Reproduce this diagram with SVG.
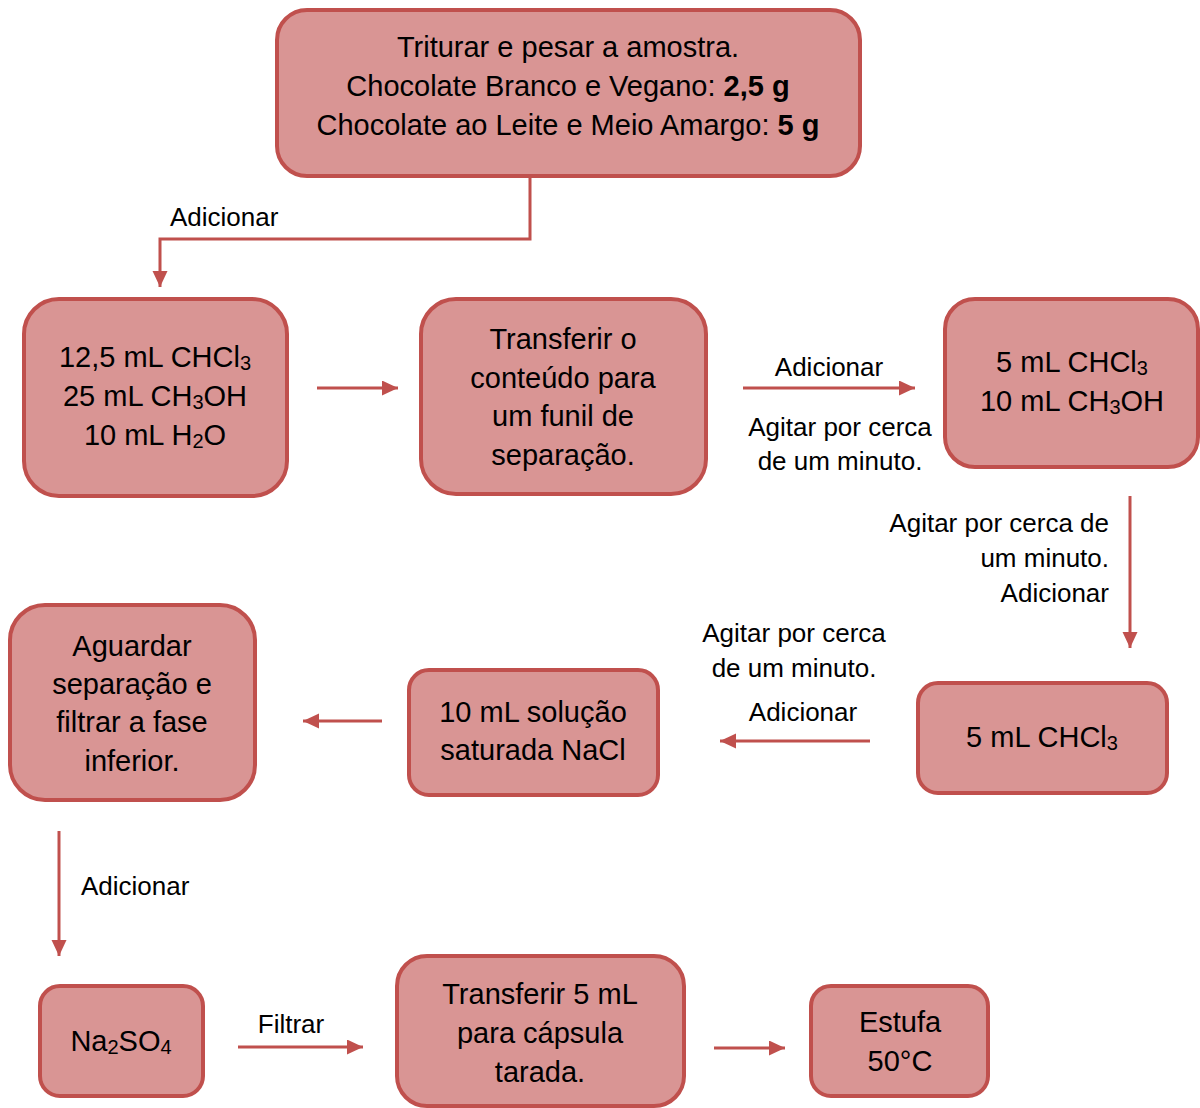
<svg xmlns="http://www.w3.org/2000/svg" width="1200" height="1108" viewBox="0 0 1200 1108">
<style>
.box{fill:#D99594;stroke:#C0504D;stroke-width:4}
.t{font-family:"Liberation Sans",Arial,sans-serif;font-size:29px;fill:#000;text-anchor:middle}
.l{font-family:"Liberation Sans",Arial,sans-serif;font-size:26px;fill:#000}
.c{fill:none;stroke:#C0504D;stroke-width:3}
.s{font-size:20px}
</style>
<defs>
<marker id="ah" markerUnits="userSpaceOnUse" markerWidth="18" markerHeight="17" refX="16" refY="7.5" orient="auto">
<path d="M0,0 L16,7.5 L0,15 Z" fill="#C0504D"/>
</marker>
</defs>
<rect width="1200" height="1108" fill="#fff"/>

<g id="connectors">
<path class="c" d="M530,176 V239 H160 V287" marker-end="url(#ah)"/>
<path class="c" d="M317,388 H398" marker-end="url(#ah)"/>
<path class="c" d="M743,388 H915" marker-end="url(#ah)"/>
<path class="c" d="M1130,496 V648" marker-end="url(#ah)"/>
<path class="c" d="M870,741 H720" marker-end="url(#ah)"/>
<path class="c" d="M382,721 H303" marker-end="url(#ah)"/>
<path class="c" d="M59,831 V956" marker-end="url(#ah)"/>
<path class="c" d="M238,1047 H363" marker-end="url(#ah)"/>
<path class="c" d="M714,1048 H785" marker-end="url(#ah)"/>
<text class="l" x="170" y="226">Adicionar</text>
<text class="l" x="829" y="376" text-anchor="middle">Adicionar</text>
<text class="l" x="840" y="436" text-anchor="middle">Agitar por cerca</text>
<text class="l" x="840" y="470" text-anchor="middle">de um minuto.</text>
<text class="l" x="1109" y="532" text-anchor="end">Agitar por cerca de</text>
<text class="l" x="1109" y="567" text-anchor="end">um minuto.</text>
<text class="l" x="1109" y="602" text-anchor="end">Adicionar</text>
<text class="l" x="794" y="642" text-anchor="middle">Agitar por cerca</text>
<text class="l" x="794" y="677" text-anchor="middle">de um minuto.</text>
<text class="l" x="803" y="721" text-anchor="middle">Adicionar</text>
<text class="l" x="81" y="895">Adicionar</text>
<text class="l" x="291" y="1033" text-anchor="middle">Filtrar</text>
</g>

<g id="n1">
<rect class="box" x="277" y="10" width="583" height="166" rx="30"/>
<text class="t" x="568" y="57">Triturar e pesar a amostra.</text>
<text class="t" x="568" y="96">Chocolate Branco e Vegano: <tspan font-weight="bold">2,5 g</tspan></text>
<text class="t" x="568" y="135">Chocolate ao Leite e Meio Amargo: <tspan font-weight="bold">5 g</tspan></text>
</g>

<g id="n2">
<rect class="box" x="24" y="299" width="263" height="197" rx="35"/>
<text class="t" x="155" y="367">12,5 mL CHCl<tspan class="s" dy="3">3</tspan></text>
<text class="t" x="155" y="406">25 mL CH<tspan class="s" dy="3">3</tspan><tspan dy="-3">OH</tspan></text>
<text class="t" x="155" y="445">10 mL H<tspan class="s" dy="3">2</tspan><tspan dy="-3">O</tspan></text>
</g>

<g id="n3">
<rect class="box" x="421" y="299" width="285" height="195" rx="35"/>
<text class="t" x="563" y="349">Transferir o</text>
<text class="t" x="563" y="388">conteúdo para</text>
<text class="t" x="563" y="426">um funil de</text>
<text class="t" x="563" y="465">separação.</text>
</g>

<g id="n4">
<rect class="box" x="945" y="299" width="253" height="168" rx="30"/>
<text class="t" x="1072" y="372">5 mL CHCl<tspan class="s" dy="3">3</tspan></text>
<text class="t" x="1072" y="411">10 mL CH<tspan class="s" dy="3">3</tspan><tspan dy="-3">OH</tspan></text>
</g>

<g id="n5">
<rect class="box" x="918" y="683" width="249" height="110" rx="20"/>
<text class="t" x="1042" y="747">5 mL CHCl<tspan class="s" dy="3">3</tspan></text>
</g>

<g id="n6">
<rect class="box" x="409" y="670" width="249" height="125" rx="20"/>
<text class="t" x="533" y="722">10 mL solução</text>
<text class="t" x="533" y="760">saturada NaCl</text>
</g>

<g id="n7">
<rect class="box" x="10" y="605" width="245" height="195" rx="35"/>
<text class="t" x="132" y="656">Aguardar</text>
<text class="t" x="132" y="694">separação e</text>
<text class="t" x="132" y="732">filtrar a fase</text>
<text class="t" x="132" y="771">inferior.</text>
</g>

<g id="n8">
<rect class="box" x="40" y="986" width="163" height="110" rx="20"/>
<text class="t" x="121" y="1051">Na<tspan class="s" dy="3">2</tspan><tspan dy="-3">SO</tspan><tspan class="s" dy="3">4</tspan></text>
</g>

<g id="n9">
<rect class="box" x="397" y="956" width="287" height="150" rx="30"/>
<text class="t" x="540" y="1004">Transferir 5 mL</text>
<text class="t" x="540" y="1043">para cápsula</text>
<text class="t" x="540" y="1082">tarada.</text>
</g>

<g id="n10">
<rect class="box" x="811" y="986" width="177" height="110" rx="20"/>
<text class="t" x="900" y="1032">Estufa</text>
<text class="t" x="900" y="1071">50°C</text>
</g>
</svg>
